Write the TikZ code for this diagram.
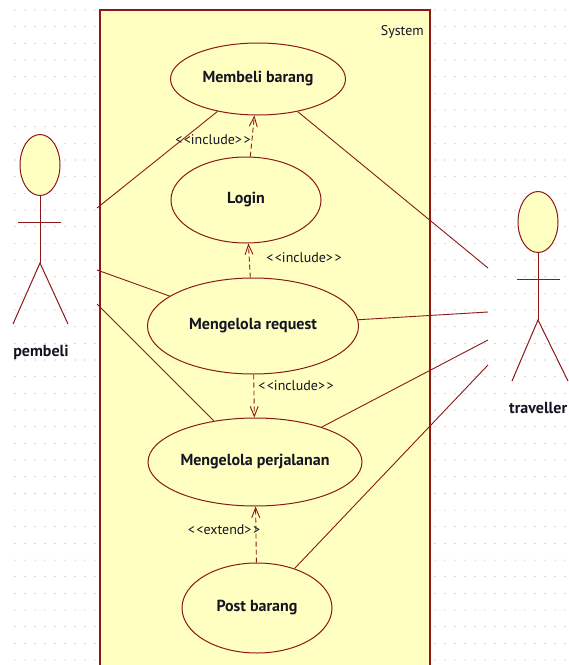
\documentclass[tikz,border=0pt]{standalone}
\usepackage{fontspec}
\setmainfont{PT Sans}
\usetikzlibrary{shapes.geometric,arrows.meta}
\definecolor{ucfill}{RGB}{255,255,194}
\definecolor{ucline}{RGB}{140,24,24}
\definecolor{dotc}{RGB}{170,170,170}
\definecolor{txt}{RGB}{20,20,35}
\tikzset{
  usecase/.style={ellipse, draw=ucline, fill=ucfill, line width=1pt, inner sep=0pt,
    text=txt, font=\bfseries\fontsize{16}{18}\selectfont},
  headshape/.style={ellipse, draw=ucline, fill=ucfill, line width=1pt, inner sep=0pt,
    minimum width=40pt, minimum height=61pt},
  actorline/.style={draw=ucline, line width=1pt},
  assoc/.style={draw=ucline, line width=0.9pt},
  dep/.style={draw=ucline, line width=0.9pt, dash pattern=on 5pt off 3pt,
    -{Straight Barb[length=10pt,width=8pt]}},
  lbl/.style={text=txt, font=\fontsize{14}{15}\selectfont, inner sep=0pt},
  actorlbl/.style={text=txt, font=\bfseries\fontsize{16}{18}\selectfont, inner sep=0pt},
}
\newcommand{\stlt}{<\kern1.5pt<}
\newcommand{\stgt}{>\kern1.5pt>}
\begin{document}
\begin{tikzpicture}[x=1pt,y=-1pt]
\useasboundingbox (0,0) rectangle (569,665);
\fill[white] (0,0) rectangle (569,665);
% dot grid
\foreach \i in {0,...,55} {
  \foreach \j in {0,...,39} {
    \fill[dotc] ({15+10*\i},{10+16.67*\j}) circle (0.6pt);
  }
}
% system boundary
\draw[draw=ucline, fill=ucfill, line width=1.5pt] (100,10) rectangle (430,680);
\node[lbl, anchor=north east] (sys) at (424,25) {System};

% use cases
\node[usecase, minimum width=175pt, minimum height=72pt] (mb) at (258,79) {Membeli barang};
\node[usecase, minimum width=150pt, minimum height=86pt] (login) at (246,200) {Login};
\node[usecase, minimum width=211pt, minimum height=96pt] (req) at (253,326) {Mengelola request};
\node[usecase, minimum width=214pt, minimum height=88pt] (perj) at (255,462) {Mengelola perjalanan};
\node[usecase, minimum width=150pt, minimum height=90pt] (post) at (257,608) {Post barang};

% actor pembeli
\node[headshape] (phead) at (40,165) {};
\coordinate (phip) at (40,263);
\coordinate (parmL) at (18,222);
\coordinate (parmR) at (61,222);
\coordinate (plegL) at (13,324);
\coordinate (plegR) at (68,324);
\draw[actorline] (phead.south) -- (phip);
\draw[actorline] (parmL) -- (parmR);
\draw[actorline] (plegL) -- (phip) -- (plegR);
\node[actorlbl] (plbl) at (41,352) {pembeli};

% actor traveller
\node[headshape] (thead) at (538,222) {};
\coordinate (thip) at (538,320);
\coordinate (tarmL) at (517,279);
\coordinate (tarmR) at (560,279);
\coordinate (tlegL) at (512,381);
\coordinate (tlegR) at (568,381);
\draw[actorline] (thead.south) -- (thip);
\draw[actorline] (tarmL) -- (tarmR);
\draw[actorline] (tlegL) -- (thip) -- (tlegR);
\node[actorlbl, anchor=west] (tlbl) at (509,408) {traveller};

% association free ends
\coordinate (pa1) at (97,208);
\coordinate (pa2) at (97,270);
\coordinate (pa3) at (97,304);
\coordinate (ta1) at (488,268);
\coordinate (ta2) at (488,312);
\coordinate (ta3) at (488,340);
\coordinate (ta4) at (488,365);

\draw[assoc] (pa1) -- (mb);
\draw[assoc] (pa2) -- (req);
\draw[assoc] (pa3) -- (perj);
\draw[assoc] (ta1) -- (mb);
\draw[assoc] (ta2) -- (req);
\draw[assoc] (ta3) -- (perj);
\draw[assoc] (ta4) -- (post);

% include / extend
\draw[dep] (login) -- (mb);
\draw[dep] (req) -- (login);
\draw[dep] (req) -- (perj);
\draw[dep] (post) -- (perj);

\node[lbl] (inc1) at (213,140) {\stlt include\stgt};
\node[lbl] (inc2) at (304,258) {\stlt include\stgt};
\node[lbl] (inc3) at (296,386) {\stlt include\stgt};
\node[lbl] (ext1) at (224,530) {\stlt extend\stgt};
\end{tikzpicture}
\end{document}
